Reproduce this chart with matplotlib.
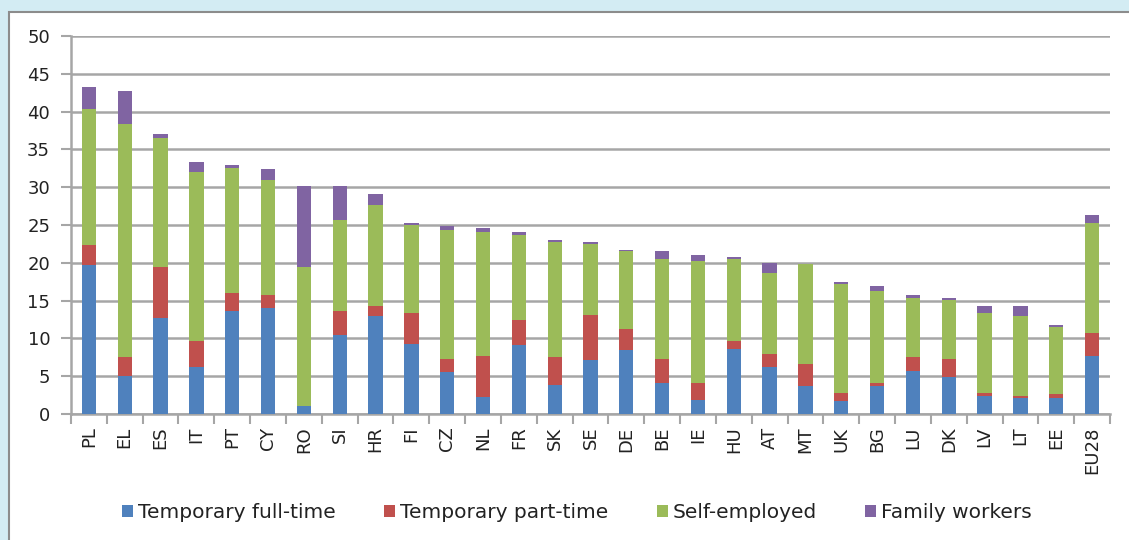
import matplotlib.pyplot as plt
from matplotlib.patches import Rectangle
import numpy as np

# dados (% do emprego)
paises = ['PL', 'EL', 'ES', 'IT', 'PT', 'CY', 'RO', 'SI', 'HR', 'FI', 'CZ', 'NL', 'FR', 'SK',
          'SE', 'DE', 'BE', 'IE', 'HU', 'AT', 'MT', 'UK', 'BG', 'LU', 'DK', 'LV', 'LT', 'EE', 'EU28']
temp_integral = [19.7, 5.0, 12.7, 6.2, 13.6, 14.0, 1.0, 10.4, 12.9, 9.3, 5.5, 2.2, 9.1, 3.9,
                 7.1, 8.4, 4.1, 1.9, 8.6, 6.2, 3.7, 1.7, 3.7, 5.7, 4.9, 2.4, 2.1, 2.1, 7.7]
temp_parcial = [2.6, 2.5, 6.7, 3.4, 2.4, 1.8, 0.0, 3.2, 1.4, 4.0, 1.8, 5.5, 3.4, 3.6,
                6.0, 2.9, 3.2, 2.2, 1.1, 1.8, 2.9, 1.1, 0.4, 1.8, 2.4, 0.4, 0.3, 0.5, 3.0]
autonomos = [18.0, 30.8, 17.1, 22.4, 16.5, 15.1, 18.4, 12.1, 13.4, 11.7, 17.0, 16.4, 11.2, 15.3,
             9.4, 10.2, 13.2, 16.2, 10.8, 10.7, 13.3, 14.4, 12.2, 7.8, 7.8, 10.5, 10.5, 8.9, 14.5]
familiares = [2.9, 4.4, 0.6, 1.3, 0.4, 1.5, 10.8, 4.5, 1.4, 0.3, 0.6, 0.5, 0.4, 0.2,
              0.3, 0.2, 1.0, 0.7, 0.3, 1.3, 0.0, 0.2, 0.6, 0.5, 0.3, 1.0, 1.4, 0.3, 1.1]

series = [temp_integral, temp_parcial, autonomos, familiares]
nomes = ['Temporary full-time', 'Temporary part-time', 'Self-employed', 'Family workers']
cores = ['#4f81bd', '#c0504d', '#9bbb59', '#8064a2']

plt.rcParams['font.family'] = ['DejaVu Sans']

fig = plt.figure(figsize=(11.29, 5.40), dpi=100, facecolor='#d3ecf3')
# painel branco com borda
fig.patches.append(Rectangle((9 / 1129, -0.05), 1.1, 0.05 + 528 / 540, transform=fig.transFigure,
                             facecolor='white', edgecolor='#8c8c8c', linewidth=1.5, zorder=-1))

ax = fig.add_axes([71 / 1129, 126 / 540, 1039 / 1129, 378 / 540])
ax.set_facecolor('white')

x = np.arange(len(paises))
base = np.zeros(len(paises))
for valores, nome, cor in zip(series, nomes, cores):
    ax.bar(x, valores, width=0.4, bottom=base, color=cor, label=nome, zorder=3)
    base = base + np.array(valores)

ax.set_xlim(-0.5, len(paises) - 0.5)
ax.set_ylim(0, 50)
ax.set_yticks(range(0, 51, 5))
ax.yaxis.grid(True, color='#a6a6a6', linewidth=1.8, zorder=0)
ax.tick_params(axis='y', length=7, width=1.5, color='#a6a6a6', labelsize=13, pad=8,
               labelcolor='#222222')

ax.set_xticks(x)
ax.set_xticklabels(paises, rotation=90, fontsize=13, color='#222222')
ax.set_xticks(np.arange(-0.5, len(paises), 1), minor=True)
ax.tick_params(axis='x', which='major', length=0, pad=9)
ax.tick_params(axis='x', which='minor', length=7, width=1.5, color='#a6a6a6')

for lado in ['top', 'right']:
    ax.spines[lado].set_visible(False)
ax.spines['left'].set_color('#a6a6a6')
ax.spines['left'].set_linewidth(1.8)
ax.spines['bottom'].set_color('#a6a6a6')
ax.spines['bottom'].set_linewidth(1.8)

handles, labels = ax.get_legend_handles_labels()
leg = fig.legend(handles, labels, loc='center', bbox_to_anchor=(0.511, 0.05), ncol=4, frameon=False,
                 fontsize=14.5, handlelength=0.55, handleheight=0.55, handletextpad=0.25,
                 columnspacing=2.4)
for t in leg.get_texts():
    t.set_color('#222222')

fig.savefig('out.png', dpi=100, facecolor=fig.get_facecolor())
